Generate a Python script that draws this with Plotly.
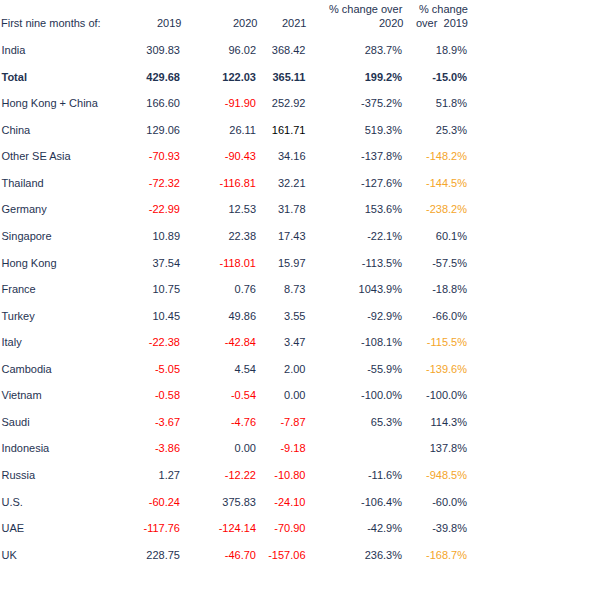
import plotly.graph_objects as go

# rows of the table, top to bottom
countries = ["India", "Total", "Hong Kong + China", "China", "Other SE Asia", "Thailand",
             "Germany", "Singapore", "Hong Kong", "France", "Turkey", "Italy", "Cambodia",
             "Vietnam", "Saudi", "Indonesia", "Russia", "U.S.", "UAE", "UK"]

v2019 = [309.83, 429.68, 166.60, 129.06, -70.93, -72.32, -22.99, 10.89, 37.54, 10.75,
         10.45, -22.38, -5.05, -0.58, -3.67, -3.86, 1.27, -60.24, -117.76, 228.75]
v2020 = [96.02, 122.03, -91.90, 26.11, -90.43, -116.81, 12.53, 22.38, -118.01, 0.76,
         49.86, -42.84, 4.54, -0.54, -4.76, 0.00, -12.22, 375.83, -124.14, -46.70]
v2021 = [368.42, 365.11, 252.92, 161.71, 34.16, 32.21, 31.78, 17.43, 15.97, 8.73,
         3.55, 3.47, 2.00, 0.00, -7.87, -9.18, -10.80, -24.10, -70.90, -157.06]
chg2020 = [283.7, 199.2, -375.2, 519.3, -137.8, -127.6, 153.6, -22.1, -113.5, 1043.9,
           -92.9, -108.1, -55.9, -100.0, 65.3, None, -11.6, -106.4, -42.9, 236.3]
chg2019 = [18.9, -15.0, 51.8, 25.3, -148.2, -144.5, -238.2, 60.1, -57.5, -18.8,
           -66.0, -115.5, -139.6, -100.0, 114.3, 137.8, -948.5, -60.0, -39.8, -168.7]

NAVY = "#1f3352"
RED = "#ff0000"
ORANGE = "#f4a52a"
FONT = "Liberation Sans, Arial"
SIZE = 11

rows = list(range(len(countries)))


def bold(s, i):
    return f"<b>{s}</b>" if countries[i] == "Total" else s


fig = go.Figure()

# country labels
fig.add_trace(go.Scatter(
    x=[1.5] * len(rows), y=rows, mode="text",
    text=[bold(c, i) for i, c in enumerate(countries)],
    textposition="middle right",
    textfont=dict(family=FONT, size=SIZE, color=NAVY),
    hoverinfo="skip", showlegend=False))

# value columns: negatives in red
value_cols = [(v2019, 180), (v2020, 256), (v2021, 305.5)]
for vals, xpos in value_cols:
    colors = [RED if (v < 0 and countries[i] != "Total") else NAVY for i, v in enumerate(vals)]
    if vals is v2021:
        colors[countries.index("China")] = "#000000"
    fig.add_trace(go.Scatter(
        x=[xpos] * len(rows), y=rows, mode="text",
        text=[bold(f"{v:.2f}", i) for i, v in enumerate(vals)],
        textposition="middle left",
        textfont=dict(family=FONT, size=SIZE, color=colors),
        hoverinfo="skip", showlegend=False))

# percentage columns
fig.add_trace(go.Scatter(
    x=[402] * len(rows), y=rows, mode="text",
    text=[bold(f"{v:.1f}%", i) if v is not None else "" for i, v in enumerate(chg2020)],
    textposition="middle left",
    textfont=dict(family=FONT, size=SIZE, color=NAVY),
    hoverinfo="skip", showlegend=False))

fig.add_trace(go.Scatter(
    x=[467] * len(rows), y=rows, mode="text",
    text=[bold(f"{v:.1f}%", i) for i, v in enumerate(chg2019)],
    textposition="middle left",
    textfont=dict(family=FONT, size=SIZE,
                  color=[ORANGE if v < -100 else NAVY for v in chg2019]),
    hoverinfo="skip", showlegend=False))

# header
headers = [
    (1.5, -1.05, "First nine months of:", "left"),
    (180, -1.05, "2019", "right"),
    (256, -1.05, "2020", "right"),
    (305.5, -1.05, "2021", "right"),
    (402, -1.61, "% change over", "right"),
    (402, -1.05, "2020", "right"),
    (467, -1.61, "% change", "right"),
    (467, -1.05, "over \u00a02019", "right"),
]
for hx, hy, txt, anchor in headers:
    fig.add_annotation(x=hx, y=hy, xref="x", yref="y", text=txt, showarrow=False,
                       xanchor=anchor, yanchor="middle",
                       xshift=-3 if anchor == "left" else 2.5,
                       font=dict(family=FONT, size=SIZE, color=NAVY))

fig.update_layout(
    width=602, height=603,
    margin=dict(l=0, r=0, t=0, b=0),
    paper_bgcolor="white", plot_bgcolor="white",
    xaxis=dict(range=[0, 602], visible=False, fixedrange=True),
    yaxis=dict(range=[20.772, -1.931], visible=False, fixedrange=True),
)

# drop the page's default body margin so the figure sits at the window corner
fig.write_html("out.html", config={"displayModeBar": False},
               post_script="document.body.style.margin='0';")
